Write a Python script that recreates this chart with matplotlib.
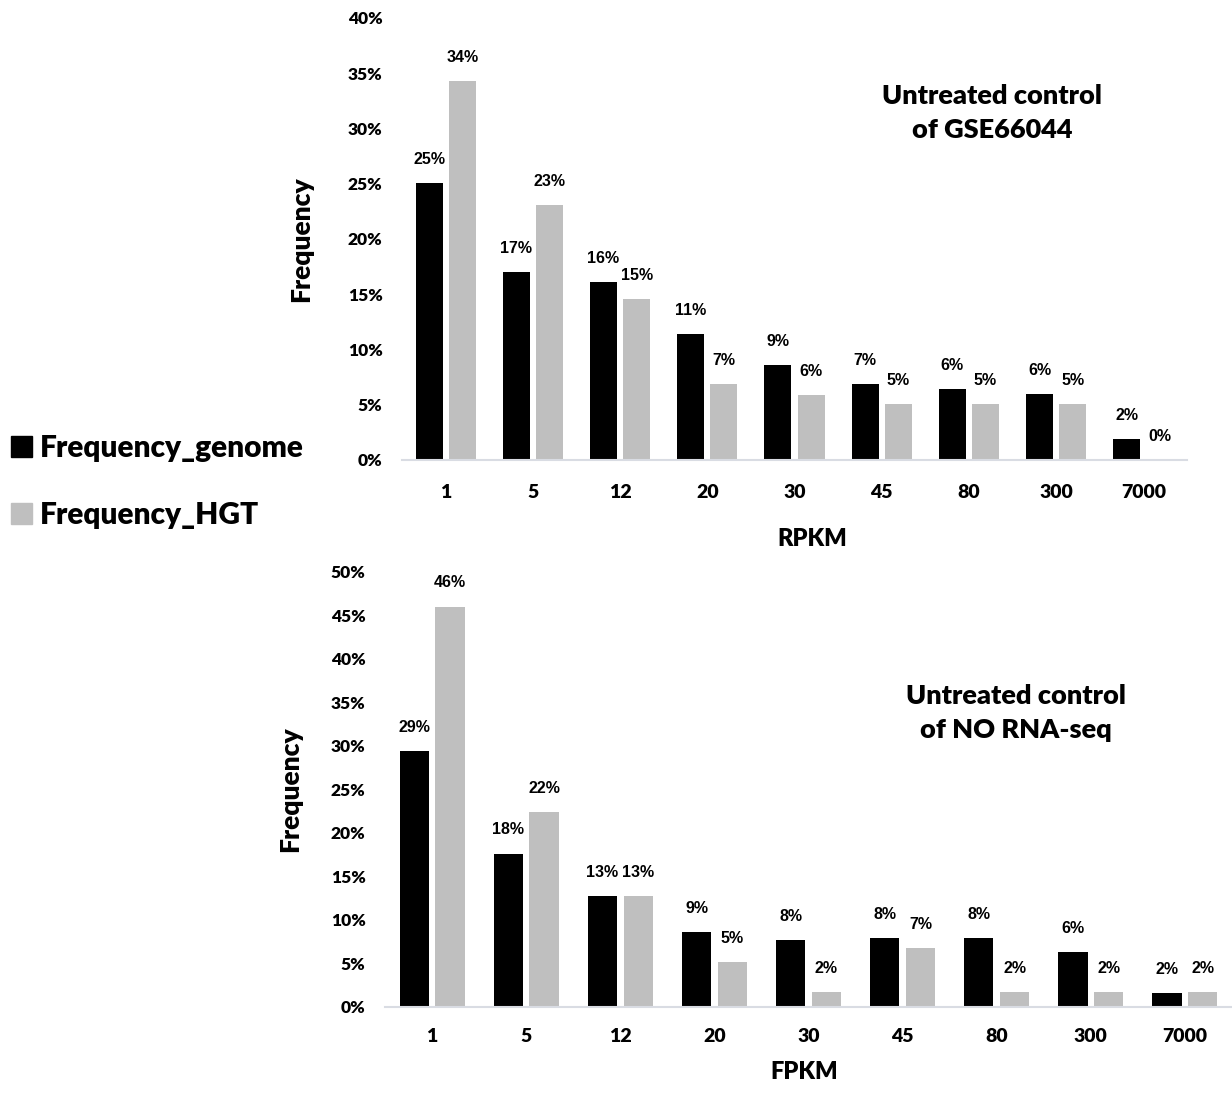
import matplotlib
matplotlib.use('Agg')
import matplotlib.pyplot as plt
import matplotlib.patches as mpatches
import numpy as np

# expression bins (same for both panels)
bins = ['1', '5', '12', '20', '30', '45', '80', '300', '7000']

# GSE66044 untreated control (RPKM)
rpkm_genome = [0.251, 0.170, 0.161, 0.114, 0.086, 0.0685, 0.0645, 0.060, 0.019]
rpkm_hgt = [0.343, 0.231, 0.146, 0.0685, 0.059, 0.0507, 0.0507, 0.0507, 0.0]

# NO RNA-seq untreated control (FPKM)
fpkm_genome = [0.294, 0.176, 0.1276, 0.086, 0.0767, 0.079, 0.079, 0.0625, 0.0155]
fpkm_hgt = [0.460, 0.224, 0.1276, 0.051, 0.017, 0.067, 0.017, 0.017, 0.017]

series_names = ['Frequency_genome', 'Frequency_HGT']
colors = ['#000000', '#bfbfbf']

title_font = 'Lato'
label_font = 'Liberation Sans'
axis_color = '#d9dce3'
heavy = 'heavy'

fig = plt.figure(figsize=(12.32, 10.97), dpi=100)
ax1 = fig.add_axes([0.3263, 0.5807, 0.6372, 0.4029])
ax2 = fig.add_axes([0.3125, 0.0823, 0.6875, 0.3965])

x = np.arange(len(bins))
w = 0.31
off = 0.19


def draw_panel(ax, genome, hgt, ymax, xlabel, title, title_xy, xpad):
    b1 = ax.bar(x - off, genome, width=w, color=colors[0])
    b2 = ax.bar(x + off, hgt, width=w, color=colors[1])
    # percent labels above each bar
    for bars, vals in [(b1, genome), (b2, hgt)]:
        for rect, v in zip(bars, vals):
            ax.annotate('{:.0%}'.format(v), xy=(rect.get_x() + rect.get_width() / 2, v),
                        xytext=(0, 17), textcoords='offset points', ha='center', va='center',
                        fontsize=11.5, fontweight='bold', family=label_font)
    ax.set_xlim(-0.5, len(bins) - 0.5)
    ax.set_ylim(0, ymax)
    ticks = np.arange(0, ymax + 0.001, 0.05)
    ax.set_yticks(ticks)
    ax.set_yticklabels(['{:.0%}'.format(t) for t in ticks])
    ax.set_xticks(x)
    ax.set_xticklabels(bins)
    for s in ['top', 'right', 'left']:
        ax.spines[s].set_visible(False)
    ax.spines['bottom'].set_color(axis_color)
    ax.spines['bottom'].set_linewidth(1.5)
    ax.tick_params(axis='y', length=0, pad=14)
    ax.tick_params(axis='x', length=0, pad=xpad)
    for t in ax.get_yticklabels():
        t.set_fontsize(12.5)
        t.set_fontweight(heavy)
        t.set_family(title_font)
    for t in ax.get_xticklabels():
        t.set_fontsize(14)
        t.set_fontweight(heavy)
        t.set_family(title_font)
    ax.set_xlabel(xlabel, fontsize=17, fontweight=heavy, family=title_font)
    ax.set_ylabel('Frequency', fontsize=19, fontweight=heavy, family=title_font)
    fig.text(title_xy[0], title_xy[1], title, ha='center', va='center', fontsize=19.5,
             fontweight=heavy, family=title_font, linespacing=1.5)


draw_panel(ax1, rpkm_genome, rpkm_hgt, 0.40, 'RPKM',
           'Untreated control\nof GSE66044', (992 / 1232, 1 - 113 / 1097), 17)
ax1.yaxis.set_label_coords(-0.113, 0.5)
ax1.xaxis.set_label_coords(0.523, -0.154)

draw_panel(ax2, fpkm_genome, fpkm_hgt, 0.50, 'FPKM',
           'Untreated control\nof NO RNA-seq', (1016 / 1232, 1 - 713 / 1097), 15)
ax2.yaxis.set_label_coords(-0.098, 0.5)
ax2.xaxis.set_label_coords(0.495, -0.124)

# shared legend on the left
handles = [mpatches.Patch(color=c, label=n) for c, n in zip(colors, series_names)]
fig.legend(handles=handles, loc='center left', bbox_to_anchor=(-0.003, 0.561), frameon=False,
           prop={'family': title_font, 'weight': heavy, 'size': 21.5},
           handlelength=0.7, handleheight=0.7, handletextpad=0.25, labelspacing=1.3,
           borderpad=0)

plt.savefig('out.png', dpi=100)
